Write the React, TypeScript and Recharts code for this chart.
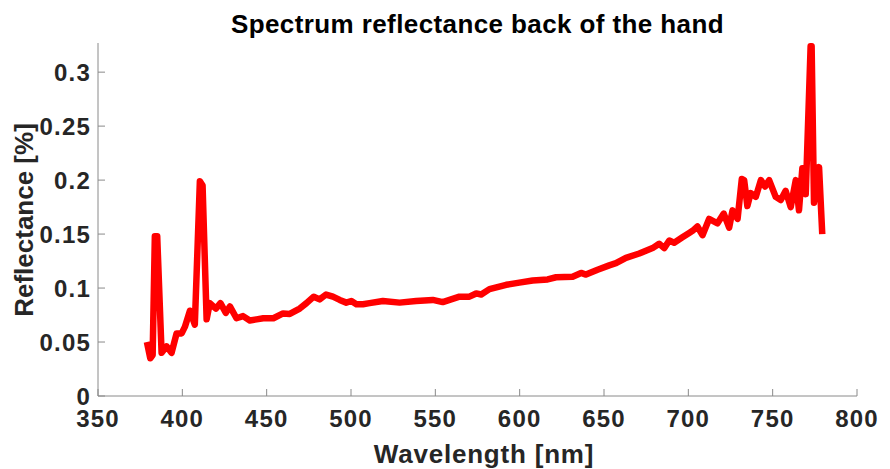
import React from "react";
import { LineChart, Line, XAxis, YAxis } from "recharts";

const wavelengths = [
  379, 381, 382.4, 383.7, 385.1, 387.7, 390.7, 393.6, 396.6, 399.6, 401.5, 404.5, 407.4,
  410.4, 412, 414.4, 416.3, 419.9, 422.6, 425.8, 428.2, 432.1, 436, 440, 444, 448, 454,
  459.7, 463.7, 469.6, 473.6, 477.9, 481.4, 485.2, 489.3, 493.3, 497.2, 500.2, 503.2,
  507.1, 511, 518.9, 528.8, 538.6, 548.5, 554.4, 564.3, 570.2, 574.2, 577.2, 582.1, 592,
  599.8, 607.7, 616.6, 621.6, 631.4, 636.4, 639.3, 646.2, 653.1, 657.1, 663, 670.9, 678.8,
  682.7, 685.7, 688.7, 691.6, 696.5, 700.5, 702.5, 705.4, 708.4, 712.3, 717.3, 721, 724.2,
  726.2, 729.2, 731.7, 733.1, 735, 737, 740, 743, 745.5, 747.9, 751.8, 754.8, 757.7, 760.7,
  763.7, 765.6, 767.6, 769.6, 772.5, 773.1, 774.5, 777.5, 779.4,
];

const reflectance = [
  0.05, 0.035, 0.038, 0.148, 0.148, 0.04, 0.046, 0.04, 0.058, 0.058, 0.064, 0.079, 0.066,
  0.199, 0.195, 0.071, 0.086, 0.081, 0.086, 0.077, 0.083, 0.072, 0.074, 0.07, 0.071, 0.072, 0.072,
  0.0765, 0.076, 0.081, 0.086, 0.092, 0.0895, 0.094, 0.092, 0.089, 0.0865, 0.088, 0.085,
  0.085, 0.086, 0.088, 0.0865, 0.088, 0.089, 0.087, 0.092, 0.092, 0.095, 0.094, 0.099, 0.103,
  0.105, 0.107, 0.108, 0.11, 0.1105, 0.114, 0.1125, 0.117, 0.121, 0.123, 0.128, 0.132, 0.137,
  0.141, 0.137, 0.144, 0.142, 0.147, 0.151, 0.153, 0.157, 0.149, 0.164, 0.16, 0.169, 0.156,
  0.172, 0.164, 0.201, 0.2, 0.176, 0.188, 0.1845, 0.2, 0.194, 0.2, 0.1845, 0.1815, 0.19, 0.175,
  0.2, 0.172, 0.211, 0.187, 0.324, 0.324, 0.179, 0.212, 0.15,
];

const xTicks = [350, 400, 450, 500, 550, 600, 650, 700, 750, 800];
const yTicks = [0, 0.05, 0.1, 0.15, 0.2, 0.25, 0.3];

const titleText = "Spectrum reflectance back of the hand";
const xLabelText = "Wavelength [nm]";
const yLabelText = "Reflectance [%]";

const data = wavelengths.map((w, i) => ({ w, r: reflectance[i] }));

const FONT = '"Liberation Sans", Arial, Helvetica, sans-serif';
const AXIS_COLOR = "#8a8a8a";
const TEXT_COLOR = "#262626";

export default function App() {
  const tickStyle = {
    fontFamily: FONT,
    fontSize: 24,
    fontWeight: 700,
    fill: TEXT_COLOR,
    letterSpacing: 1.2,
  };
  return (
    <div style={{ position: "absolute", left: 0, top: 0, width: 890, height: 469, background: "#fff" }}>
      <LineChart
        width={890}
        height={469}
        data={data}
        margin={{ top: 43, right: 33, left: 0, bottom: 0 }}
      >
        <XAxis
          xAxisId="b"
          dataKey="w"
          type="number"
          domain={[350, 800]}
          ticks={xTicks}
          allowDataOverflow
          height={73}
          tickSize={-7}
          tickMargin={21}
          stroke={AXIS_COLOR}
          tick={tickStyle}
          interval={0}
        />
        <XAxis
          xAxisId="t"
          dataKey="w"
          type="number"
          orientation="top"
          domain={[350, 800]}
          ticks={xTicks}
          allowDataOverflow
          height={0}
          tickSize={-7}
          stroke={AXIS_COLOR}
          tick={false}
          interval={0}
        />
        <YAxis
          yAxisId="l"
          type="number"
          domain={[0, 0.327]}
          ticks={yTicks}
          allowDataOverflow
          width={98}
          tickSize={-7}
          tickMargin={14}
          stroke={AXIS_COLOR}
          tick={tickStyle}
          interval={0}
        />
        <YAxis
          yAxisId="r"
          type="number"
          orientation="right"
          domain={[0, 0.327]}
          ticks={yTicks}
          allowDataOverflow
          width={0}
          tickSize={-7}
          stroke={AXIS_COLOR}
          tick={false}
          interval={0}
        />
        <Line
          xAxisId="b"
          yAxisId="l"
          dataKey="r"
          type="linear"
          stroke="#ff0000"
          strokeWidth={6.5}
          strokeLinejoin="round"
          strokeLinecap="butt"
          dot={false}
          activeDot={false}
          isAnimationActive={false}
        />
      </LineChart>
      <div
        style={{
          position: "absolute",
          left: 0,
          width: 955,
          top: 11,
          textAlign: "center",
          fontFamily: FONT,
          fontSize: 26,
          lineHeight: "26px",
          fontWeight: 700,
          letterSpacing: 0.4,
          color: "#000",
          whiteSpace: "nowrap",
        }}
      >
        {titleText}
      </div>
      <div
        style={{
          position: "absolute",
          left: 0,
          width: 968,
          top: 441,
          textAlign: "center",
          fontFamily: FONT,
          fontSize: 26,
          lineHeight: "26px",
          fontWeight: 700,
          letterSpacing: 0.8,
          color: TEXT_COLOR,
          whiteSpace: "nowrap",
        }}
      >
        {xLabelText}
      </div>
      <div
        style={{
          position: "absolute",
          left: 23.5,
          top: 220,
          transform: "translate(-50%, -50%) rotate(-90deg)",
          fontFamily: FONT,
          fontSize: 26,
          lineHeight: "26px",
          fontWeight: 700,
          color: TEXT_COLOR,
          whiteSpace: "nowrap",
        }}
      >
        {yLabelText}
      </div>
    </div>
  );
}
